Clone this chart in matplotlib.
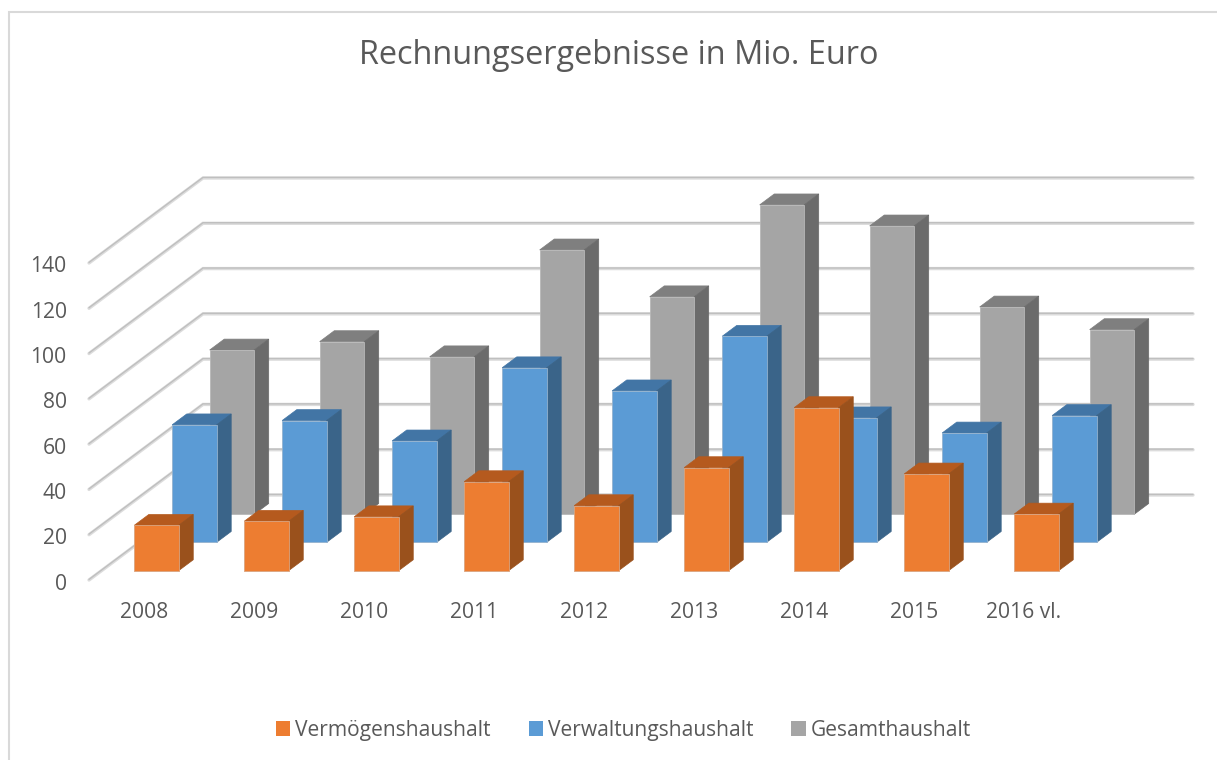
import matplotlib
matplotlib.use("Agg")
import matplotlib.pyplot as plt
from matplotlib.patches import Patch, Polygon, Rectangle
from matplotlib.transforms import Affine2D

plt.rcParams['font.family'] = ['Open Sans', 'DejaVu Sans']

years = ["2008", "2009", "2010", "2011", "2012", "2013", "2014", "2015", "2016 vl."]
vermoegen = [20.0, 21.8, 23.8, 39.3, 28.7, 45.5, 72.0, 42.7, 25.0]
verwaltung = [51.9, 53.8, 44.8, 77.1, 66.9, 91.0, 55.0, 48.3, 56.0]
gesamt = [72.6, 76.3, 69.6, 116.8, 96.1, 136.7, 127.4, 91.6, 81.6]
y_ticks = [0, 20, 40, 60, 80, 100, 120, 140]

W, H = 1217, 760
TEXT = "#595959"

# oblique 3d: one unit of depth moves this far in category / value units
SHEAR_X = 114 / 110
SHEAR_Y = 85 / (317 / 140)
BAR_W = 0.404
BAR_D = 0.128


def proj(x, depth, v):
    return (x + depth * SHEAR_X, v + depth * SHEAR_Y)


def draw_bar(ax, i, depth, value, front, side, top):
    x0 = i + 0.297
    x1 = x0 + BAR_W
    d1 = depth + BAR_D
    faces = [
        ([proj(x0, depth, value), proj(x1, depth, value), proj(x1, d1, value), proj(x0, d1, value)], top),
        ([proj(x1, depth, 0), proj(x1, d1, 0), proj(x1, d1, value), proj(x1, depth, value)], side),
        ([proj(x0, depth, 0), proj(x1, depth, 0), proj(x1, depth, value), proj(x0, depth, value)], front),
    ]
    for pts, col in faces:
        ax.add_patch(Polygon(pts, closed=True, facecolor=col, edgecolor=col, lw=0.5, clip_on=False))
    # thin light rim round the front face
    ax.add_patch(Polygon(faces[2][0], closed=True, fill=False, edgecolor="#c8c8c8", lw=0.7, alpha=0.45, clip_on=False))


fig = plt.figure(figsize=(W / 100, H / 100), dpi=100, facecolor="white")

# chart border, open at the right and bottom
fig.add_artist(Rectangle((9.3 / W, -0.1), 1.2, 1 - 12 / H + 0.1, transform=fig.transFigure,
                         fill=False, edgecolor="#d9d9d9", lw=1.5))

# axes is the front plane of the 3d box
ax = fig.add_axes([89 / W, 1 - 580 / H, 990 / W, 317 / H])
ax.set_xlim(0, len(years))
ax.set_ylim(0, 140)
ax.patch.set_visible(False)
for s in ax.spines.values():
    s.set_visible(False)

for v in y_ticks:
    xs = [0, proj(0, 1, v)[0], proj(len(years), 1, v)[0]]
    ys = [v, proj(0, 1, v)[1], proj(len(years), 1, v)[1]]
    ax.plot(xs, ys, color="#dcdcdc", lw=2.4, clip_on=False, zorder=1,
            solid_capstyle="round", solid_joinstyle="miter")
    ax.plot(xs, [y + 0.25 for y in ys], color="#bfbfbf", lw=1.0, clip_on=False, zorder=1,
            solid_capstyle="round", solid_joinstyle="miter")

series = [
    (gesamt, 0.772, "#A5A5A5", "#6B6B6B", "#7F7F7F"),
    (verwaltung, 0.443, "#5B9BD5", "#3A6489", "#4275A5"),
    (vermoegen, 0.11, "#ED7D31", "#9A511C", "#B55A1E"),
]
for values, depth, front, side, top in series:
    for i, v in enumerate(values):
        draw_bar(ax, i, depth, v, front, side, top)

ax.set_xticks([i + 0.5 for i in range(len(years))])
ax.set_xticklabels(years)
ax.set_yticks(y_ticks)
ax.tick_params(axis="x", length=0, pad=16, labelsize=15.2, labelcolor=TEXT)
ax.tick_params(axis="y", length=0, pad=16, labelsize=15.2, labelcolor=TEXT)
for lab in ax.get_yticklabels():
    lab.set_transform(lab.get_transform() + Affine2D().translate(0, -1.5))

fig.text(619 / W, 1 - 56 / H, "Rechnungsergebnisse in Mio. Euro", ha="center", va="center",
         fontsize=23.4, color=TEXT)

handles = [Patch(facecolor="#ED7D31", label="Vermögenshaushalt"),
           Patch(facecolor="#5B9BD5", label="Verwaltungshaushalt"),
           Patch(facecolor="#A5A5A5", label="Gesamthaushalt")]
fig.legend(handles=handles, ncol=3, loc="center", bbox_to_anchor=(623.5 / W, 1 - 730.5 / H),
           frameon=False, fontsize=15.1, labelcolor=TEXT, handlelength=0.68, handleheight=0.68,
           handletextpad=0.25, columnspacing=1.8)

fig.savefig("out.png", dpi=100)
